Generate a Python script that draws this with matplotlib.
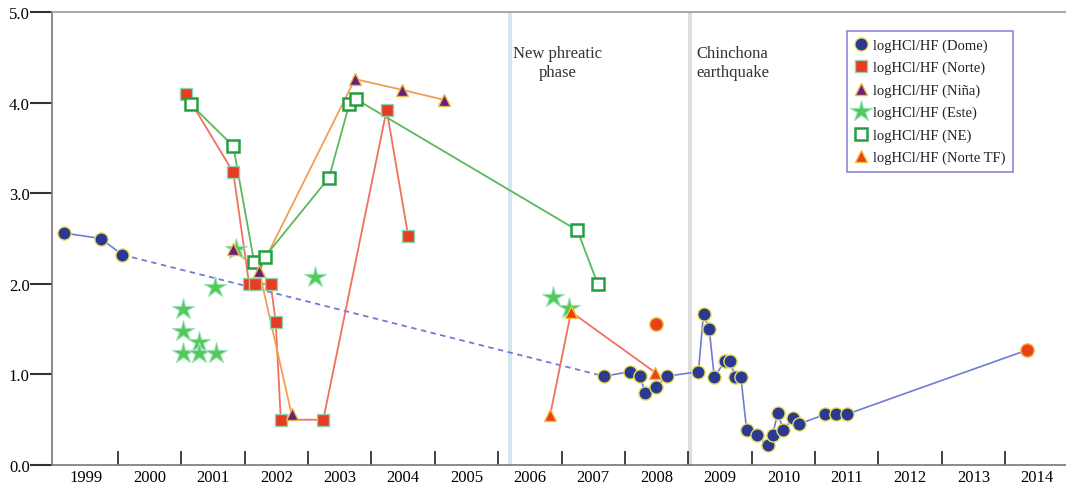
import numpy as np
import matplotlib
matplotlib.use("Agg")
import matplotlib.pyplot as plt
from matplotlib.lines import Line2D

plt.rcParams['font.family'] = ['Liberation Serif', 'DejaVu Serif']

# logHCl/HF ratios by fumarole group, x in decimal years
dome_x = [1999.15, 1999.73, 2000.07, 2007.67, 2008.08, 2008.24, 2008.32, 2008.49,
          2008.66, 2009.16, 2009.24, 2009.33, 2009.41, 2009.58, 2009.66, 2009.74,
          2009.83, 2009.92, 2010.08, 2010.25, 2010.33, 2010.41, 2010.50, 2010.66,
          2010.74, 2011.16, 2011.33, 2011.50]
dome_y = [2.56, 2.50, 2.32, 0.98, 1.03, 0.98, 0.79, 0.86,
          0.98, 1.03, 1.67, 1.50, 0.97, 1.15, 1.15, 0.97,
          0.97, 0.39, 0.33, 0.22, 0.33, 0.57, 0.39, 0.52,
          0.45, 0.56, 0.56, 0.56]

# odd dome samples drawn in orange
extra_x = [2008.49, 2014.35]
extra_y = [1.56, 1.27]

norte_x = [2001.07, 2001.82, 2002.07, 2002.16, 2002.41, 2002.49, 2002.57, 2003.24, 2004.24, 2004.58]
norte_y = [4.10, 3.23, 2.00, 2.00, 2.00, 1.58, 0.50, 0.50, 3.92, 2.53]

nina_x = [2001.82, 2002.23, 2002.74, 2003.74, 2004.49, 2005.15]
nina_y = [2.38, 2.14, 0.56, 4.26, 4.14, 4.03]

este_x = [2001.02, 2001.02, 2001.28, 2001.02, 2001.28, 2001.54, 2001.53, 2001.86, 2003.11, 2006.86, 2007.12]
este_y = [1.72, 1.48, 1.36, 1.24, 1.24, 1.24, 1.97, 2.38, 2.08, 1.85, 1.73]

ne_x = [2001.15, 2001.82, 2002.15, 2002.32, 2003.33, 2003.65, 2003.75, 2007.25, 2007.57]
ne_y = [3.98, 3.52, 2.24, 2.30, 3.17, 3.98, 4.04, 2.59, 2.00]

tf_x = [2006.82, 2007.15, 2008.48]
tf_y = [0.55, 1.69, 1.02]

phreatic_year = 2006.19
quake_year = 2009.02

years = list(range(1999, 2015))

fig = plt.figure(figsize=(10.66, 4.89), dpi=100)
ax = fig.add_axes([0.0488, 0.047, 0.9512, 0.9264])

ax.axvline(phreatic_year, color='#d3e7f1', lw=3, zorder=1)
ax.axvline(quake_year, color='#dddddd', lw=3, zorder=1)

# dome: solid, dashed gap 2000-2007, solid, then on to the 2013 sample
dc = '#6f7bd6'
ax.plot(dome_x[:3], dome_y[:3], color=dc, lw=1.2, zorder=2)
ax.plot(dome_x[2:4], dome_y[2:4], color=dc, lw=1.3, ls=(0, (3, 2.5)), zorder=2)
ax.plot(dome_x[3:] + extra_x[1:], dome_y[3:] + extra_y[1:], color=dc, lw=1.2, zorder=2)

ax.plot(norte_x, norte_y, color='#f2705f', lw=1.3, zorder=2)
ax.plot(nina_x[:3], nina_y[:3], color='#f0a050', lw=1.3, zorder=2)
ax.plot(nina_x[1:2] + nina_x[3:], nina_y[1:2] + nina_y[3:], color='#f0a050', lw=1.3, zorder=2)
ax.plot(ne_x, ne_y, color='#5cb85c', lw=1.3, zorder=2)
ax.plot(tf_x, tf_y, color='#f2705f', lw=1.3, zorder=2)

dome_kw = dict(marker='o', ms=9.5, mfc='#2b3990', mec='#e6df5a', mew=1, ls='none')
norte_kw = dict(marker='s', ms=9, mfc='#e63b24', mec='#93d3a8', mew=1, ls='none')
nina_kw = dict(marker='^', ms=8.5, mfc='#6b1f7c', mec='#e9b845', mew=1, ls='none')
este_kw = dict(marker='*', ms=16, mfc='#55c85a', mec='#96e2b4', mew=0.8, ls='none')
ne_kw = dict(marker='s', ms=8.5, mfc='white', mec='#22a040', mew=1.8, ls='none')
tf_kw = dict(marker='^', ms=9, mfc='#e8401a', mec='#f1c232', mew=1, ls='none')
extra_kw = dict(marker='o', ms=9.5, mfc='#e84018', mec='#f2b035', mew=1, ls='none')

ax.plot(este_x, este_y, zorder=3, **este_kw)
ax.plot(norte_x, norte_y, zorder=4, **norte_kw)
ax.plot(ne_x, ne_y, zorder=5, **ne_kw)
ax.plot(nina_x, nina_y, zorder=6, **nina_kw)
ax.plot(tf_x, tf_y, zorder=6, **tf_kw)
ax.plot(dome_x, dome_y, zorder=6, **dome_kw)
ax.plot(extra_x, extra_y, zorder=6, **extra_kw)

ax.text(phreatic_year + 0.04, 4.64, 'New phreatic\nphase', ha='left', va='top',
        multialignment='center', fontsize=12, color='#333333', linespacing=1.25)
ax.text(quake_year + 0.1, 4.64, 'Chinchona\nearthquake', ha='left', va='top',
        multialignment='center', fontsize=12, color='#333333', linespacing=1.25)

ax.set_xlim(1998.96, 2014.96)
ax.set_ylim(0, 5)

ax.set_xticks(years[1:])
ax.set_xticklabels([])
ax.set_xticks([y + 0.5 for y in years], minor=True)
ax.set_xticklabels([str(y) for y in years], minor=True, fontsize=12)
ax.tick_params(axis='x', which='major', direction='in', length=10, width=1.3, color='#333333')
ax.tick_params(axis='x', which='minor', length=0, pad=3)

ax.set_yticks(np.arange(0, 5.5, 1.0))
ax.set_yticklabels(['%.1f' % v for v in np.arange(0, 5.5, 1.0)], fontsize=12)
ax.tick_params(axis='y', direction='out', length=16, width=1.5, color='#333333', pad=0)

ax.spines['right'].set_visible(False)
ax.spines['top'].set_color('#999999')
ax.spines['left'].set_color('#777777')
ax.spines['bottom'].set_color('#777777')
for s in ('top', 'left', 'bottom'):
    ax.spines[s].set_linewidth(1.2)

handles = [Line2D([], [], **dome_kw), Line2D([], [], **norte_kw), Line2D([], [], **nina_kw),
           Line2D([], [], **este_kw), Line2D([], [], **ne_kw), Line2D([], [], **tf_kw)]
labels = ['logHCl/HF (Dome)', 'logHCl/HF (Norte)', 'logHCl/HF (Niña)',
          'logHCl/HF (Este)', 'logHCl/HF (NE)', 'logHCl/HF (Norte TF)']
leg = ax.legend(handles, labels, loc='upper left', bbox_to_anchor=(0.784, 0.958),
                borderaxespad=0, fontsize=10.5, handlelength=0.9, handletextpad=0.4,
                labelspacing=0.62, fancybox=False, framealpha=1, borderpad=0.5)
leg.get_frame().set_edgecolor('#8a8ad0')
leg.get_frame().set_linewidth(1.2)
for t in leg.get_texts():
    t.set_color('#222222')

fig.savefig('out.png', dpi=100)
